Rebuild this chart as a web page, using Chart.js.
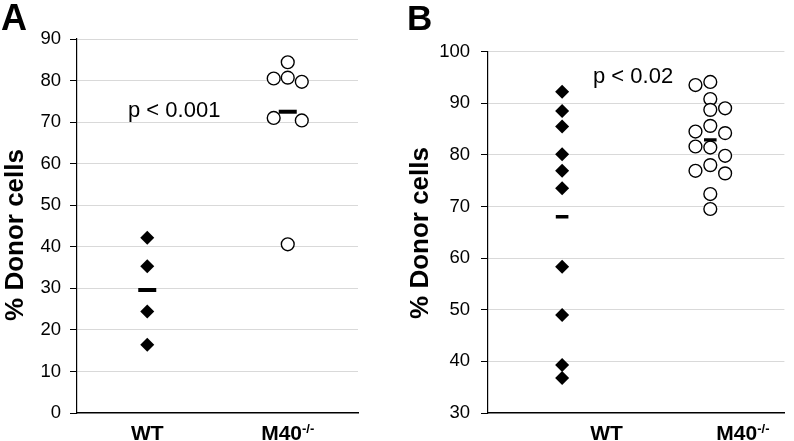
<!DOCTYPE html>
<html>
<head>
<meta charset="utf-8">
<script src="https://cdn.jsdelivr.net/npm/chart.js@4.4.1/dist/chart.umd.min.js"></script>
<style>
  html, body { margin: 0; padding: 0; background: #ffffff; }
  .panel { position: absolute; top: 0; width: 397px; height: 441px; }
</style>
</head>
<body>
<div class="panel" style="left: 0"><canvas id="chartA"></canvas></div>
<div class="panel" style="left: 397px"><canvas id="chartB"></canvas></div>
<script>
// Groups and x label text
const groups = ["WT", "M40"];
const groupSup = ["", "-/-"];

// Panel A values (% donor cells)
const aWT = [42.2, 35.3, 24.4, 16.4];
const aKO = [84.4, 80.5, 80.7, 79.7, 71.0, 70.4, 40.6];
const aKOLane = [0, -1, 0, 1, -1, 1, 0];
const aMeans = [29.6, 72.5];
const aTicks = [0, 10, 20, 30, 40, 50, 60, 70, 80, 90];

// Panel B values (% donor cells)
const bWT = [92.2, 88.5, 85.5, 80.1, 76.9, 73.5, 58.3, 49.0, 39.3, 36.8];
const bKO = [93.5, 94.1, 90.8, 88.7, 89.0, 84.5, 85.6, 84.2, 81.6, 81.4, 79.8, 76.9, 78.0, 76.4, 72.4, 69.5];
const bKOLane = [-1, 0, 0, 0, 1, -1, 0, 1, -1, 0, 1, -1, 0, 1, 0, 0];
const bMeans = [68.0, 82.9];
const bTicks = [30, 40, 50, 60, 70, 80, 90, 100];

const laneStep = 0.1;
const fontFamily = "'Liberation Sans', Arial, sans-serif";

Chart.defaults.font.family = fontFamily;
Chart.defaults.animation = false;

function lanePoints(center, values, lanes) {
  return values.map(function (v, i) {
    return { x: center + (lanes ? lanes[i] * laneStep : 0), y: v };
  });
}

// Draws panel letter, p value, y title and x labels (with superscript)
const panelTextPlugin = {
  id: "panelText",
  afterDraw: function (chart, args, opts) {
    const ctx = chart.ctx;
    const xScale = chart.scales.x;
    ctx.save();
    ctx.fillStyle = "#000000";
    ctx.textBaseline = "alphabetic";

    ctx.textAlign = "left";
    ctx.font = "bold " + opts.letterSize + "px " + fontFamily;
    ctx.fillText(opts.letter, opts.letterX, 30);

    ctx.font = "22px " + fontFamily;
    ctx.fillText(opts.pText, opts.pX, opts.pY);

    ctx.save();
    ctx.translate(opts.titleX, opts.titleY);
    ctx.rotate(-Math.PI / 2);
    ctx.textAlign = "center";
    ctx.font = "bold 26px " + fontFamily;
    ctx.fillText("% Donor cells", 0, 0);
    ctx.restore();

    groups.forEach(function (g, i) {
      ctx.font = "bold 21px " + fontFamily;
      const w1 = ctx.measureText(g).width;
      ctx.font = "bold 13px " + fontFamily;
      const w2 = ctx.measureText(groupSup[i]).width;
      const cx = xScale.getPixelForValue(opts.labelX[i]);
      const left = cx - (w1 + w2) / 2;
      ctx.textAlign = "left";
      ctx.font = "bold 21px " + fontFamily;
      ctx.fillText(g, left, 440);
      ctx.font = "bold 13px " + fontFamily;
      ctx.fillText(groupSup[i], left + w1, 433);
    });
    ctx.restore();
  },
};

function makeChart(id, d) {
  const ctx = document.getElementById(id).getContext("2d");
  return new Chart(ctx, {
    type: "scatter",
    data: {
      datasets: [
        {
          label: "Mean",
          data: [{ x: 0.5, y: d.means[0] }, { x: 1.5, y: d.means[1] }],
          pointStyle: "line",
          pointRadius: d.meanRadius,
          pointBorderWidth: d.meanWidth,
          pointBorderColor: "#000000",
          pointBackgroundColor: "#000000",
        },
        {
          label: "WT",
          data: lanePoints(0.5, d.wt, null),
          pointStyle: "rectRot",
          pointRadius: 7,
          pointBorderWidth: 0,
          pointBackgroundColor: "#000000",
          pointBorderColor: "#000000",
        },
        {
          label: "M40",
          data: lanePoints(1.5, d.ko, d.lanes),
          pointStyle: "circle",
          pointRadius: 6.4,
          pointBorderWidth: 1.4,
          pointBackgroundColor: "#ffffff",
          pointBorderColor: "#000000",
        },
      ],
    },
    options: {
      responsive: true,
      maintainAspectRatio: false,
      layout: {
        padding: { left: 0, right: d.padRight, top: d.padTop, bottom: 28 },
      },
      plugins: {
        legend: { display: false },
        tooltip: { enabled: false },
        panelText: d.text,
      },
      scales: {
        x: {
          type: "linear",
          min: 0,
          max: 2,
          ticks: { display: false },
          grid: { display: false, drawTicks: false },
          border: { display: true, color: "#000000", width: 1.5 },
          afterFit: function (s) {
            s.height = 0;
          },
        },
        y: {
          min: d.ticks[0],
          max: d.ticks[d.ticks.length - 1],
          afterBuildTicks: function (s) {
            s.ticks = d.ticks.map(function (v) {
              return { value: v };
            });
          },
          afterFit: function (s) {
            s.width = d.axisLeft;
          },
          ticks: {
            color: "#000000",
            padding: d.tickPad,
            font: { size: 18.5 },
          },
          grid: {
            color: function (c) {
              return c.tick && c.tick.value === d.ticks[0] ? "rgba(0,0,0,0)" : "#d9d9d9";
            },
            tickColor: "#000000",
            tickLength: 7,
            lineWidth: 1,
          },
          border: { display: true, color: "#000000", width: 1.2 },
        },
      },
    },
    plugins: [panelTextPlugin],
  });
}

makeChart("chartA", {
  wt: aWT,
  ko: aKO,
  lanes: aKOLane,
  means: aMeans,
  ticks: aTicks,
  meanRadius: 9,
  meanWidth: 4,
  axisLeft: 77,
  padRight: 39,
  padTop: 39,
  tickPad: 9,
  text: {
    letter: "A",
    letterSize: 36,
    letterX: 1,
    pText: "p < 0.001",
    pX: 128,
    pY: 117,
    titleX: 23,
    titleY: 235,
    labelX: [0.5, 1.5],
  },
});

makeChart("chartB", {
  wt: bWT,
  ko: bKO,
  lanes: bKOLane,
  means: bMeans,
  ticks: bTicks,
  meanRadius: 6.3,
  meanWidth: 3.3,
  axisLeft: 91,
  padRight: 1,
  padTop: 51.5,
  tickPad: 11,
  text: {
    letter: "B",
    letterSize: 35,
    letterX: 10,
    pText: "p < 0.02",
    pX: 196,
    pY: 83,
    titleX: 31,
    titleY: 233,
    labelX: [0.8, 1.72],
  },
});
</script>
</body>
</html>
